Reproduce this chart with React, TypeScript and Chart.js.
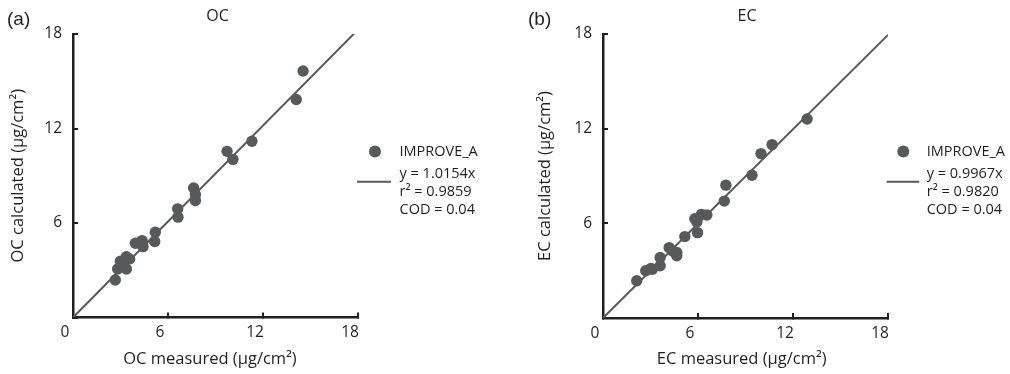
import React, { useEffect, useRef } from "react";
import { Chart, registerables } from "chart.js";

Chart.register(...registerables);

// ---- data ----
const ocMeasured = [2.67, 2.82, 2.99, 3.37, 3.37, 3.58, 3.94, 4.36, 4.42, 5.16, 5.2, 6.61, 6.63, 7.62, 7.73, 7.73, 9.73, 10.1, 11.3, 14.1, 14.53];
const ocCalculated = [2.38, 3.08, 3.57, 3.08, 3.86, 3.72, 4.71, 4.88, 4.5, 4.82, 5.41, 6.9, 6.37, 8.22, 7.81, 7.43, 10.55, 10.04, 11.19, 13.84, 15.65];
const ecMeasured = [2.13, 2.7, 3.02, 3.12, 3.61, 3.61, 4.18, 4.39, 4.66, 4.66, 5.17, 5.8, 5.93, 5.97, 6.22, 6.56, 7.66, 7.76, 9.41, 9.98, 10.68, 12.89];
const ecCalculated = [2.36, 2.99, 3.14, 3.09, 3.83, 3.31, 4.46, 4.25, 4.15, 3.94, 5.16, 6.29, 6.08, 5.41, 6.57, 6.53, 7.41, 8.42, 9.05, 10.42, 10.99, 12.61];
const tickValues = [0, 6, 12, 18];
const ocSlope = 1.0154;
const ecSlope = 0.9967;
const ocLegend = ["IMPROVE_A", "y = 1.0154x", "r\u00B2 = 0.9859", "COD = 0.04"];
const ecLegend = ["IMPROVE_A", "y = 0.9967x", "r\u00B2 = 0.9820", "COD = 0.04"];

const FONT = "'Open Sans', sans-serif";
const TEXT = "#231f20";
const AXIS = "#231f20";
const MARK = "#58595b";

type PanelCfg = {
  left: number;
  width: number;
  area: { left: number; right: number; top: number; bottom: number };
  panel: string;
  panelX: number;
  title: string;
  titleX: number;
  xTitle: string;
  xTitleX: number;
  yTitle: string;
  yTitleX: number;
  measured: number[];
  calculated: number[];
  slope: number;
  legend: string[];
  legCircleX: number;
  legLineX1: number;
  legLineX2: number;
  legTextX: number;
};

const panels: PanelCfg[] = [
  {
    left: 0,
    width: 505,
    area: { left: 73, right: 358, top: 34, bottom: 317.5 },
    panel: "(a)",
    panelX: 7,
    title: "OC",
    titleX: 217.5,
    xTitle: "OC measured (\u03BCg/cm\u00B2)",
    xTitleX: 210,
    yTitle: "OC calculated (\u03BCg/cm\u00B2)",
    yTitleX: 18.5,
    measured: ocMeasured,
    calculated: ocCalculated,
    slope: ocSlope,
    legend: ocLegend,
    legCircleX: 375,
    legLineX1: 357,
    legLineX2: 391,
    legTextX: 399.5,
  },
  {
    left: 505,
    width: 505,
    area: { left: 98, right: 383, top: 34, bottom: 318 },
    panel: "(b)",
    panelX: 23,
    title: "EC",
    titleX: 242,
    xTitle: "EC measured (\u03BCg/cm\u00B2)",
    xTitleX: 236.7,
    yTitle: "EC calculated (\u03BCg/cm\u00B2)",
    yTitleX: 40,
    measured: ecMeasured,
    calculated: ecCalculated,
    slope: ecSlope,
    legend: ecLegend,
    legCircleX: 398.3,
    legLineX1: 381.7,
    legLineX2: 414.3,
    legTextX: 421.7,
  },
];

function decorPlugin(cfg: PanelCfg) {
  return {
    id: "decor" + cfg.panel,
    afterDraw(chart: any) {
      const ctx = chart.ctx as CanvasRenderingContext2D;
      const a = chart.chartArea;
      ctx.save();
      ctx.fillStyle = TEXT;
      ctx.textBaseline = "middle";
      // panel letter
      ctx.font = "19px 'Liberation Sans', Arial, sans-serif";
      ctx.textAlign = "left";
      ctx.fillText(cfg.panel, cfg.panelX, 20);
      // title
      ctx.font = `16px ${FONT}`;
      ctx.textAlign = "center";
      ctx.fillText(cfg.title, cfg.titleX, 16);
      // axis titles
      ctx.font = `16.5px ${FONT}`;
      ctx.fillText(cfg.xTitle, cfg.xTitleX, 359);
      ctx.save();
      ctx.translate(cfg.yTitleX, (a.top + a.bottom) / 2);
      ctx.rotate(-Math.PI / 2);
      ctx.fillText(cfg.yTitle, 0, 0);
      ctx.restore();
      // legend
      ctx.fillStyle = MARK;
      ctx.beginPath();
      ctx.arc(cfg.legCircleX, 151.5, 6, 0, Math.PI * 2);
      ctx.fill();
      ctx.strokeStyle = MARK;
      ctx.lineWidth = 2;
      ctx.beginPath();
      ctx.moveTo(cfg.legLineX1, 181.7);
      ctx.lineTo(cfg.legLineX2, 181.7);
      ctx.stroke();
      ctx.fillStyle = TEXT;
      ctx.font = `14.5px ${FONT}`;
      ctx.textAlign = "left";
      const ys = [151.5, 173.5, 191.7, 210];
      cfg.legend.forEach((t, i) => ctx.fillText(t, cfg.legTextX, ys[i]));
      ctx.restore();
    },
  };
}

function Panel({ cfg }: { cfg: PanelCfg }) {
  const ref = useRef<HTMLCanvasElement | null>(null);
  useEffect(() => {
    if (!ref.current) return;
    const points = cfg.measured.map((x, i) => ({ x, y: cfg.calculated[i] }));
    const fit = [
      { x: tickValues[0], y: tickValues[0] * cfg.slope },
      { x: tickValues[tickValues.length - 1], y: tickValues[tickValues.length - 1] * cfg.slope },
    ];
    const axisCommon = {
      min: tickValues[0],
      max: tickValues[tickValues.length - 1],
      grid: { drawOnChartArea: false, drawTicks: true, tickLength: -5, color: AXIS, lineWidth: 2 },
      border: { display: true, color: AXIS, width: 2.5 },
    };
    const xHeight = 374 - cfg.area.bottom;
    const chart = new Chart(ref.current, {
      type: "scatter",
      data: {
        datasets: [
          {
            label: "IMPROVE_A",
            data: points,
            pointRadius: 5.7,
            pointBackgroundColor: MARK,
            pointBorderWidth: 0,
            order: 1,
          } as any,
          {
            type: "line",
            label: "fit",
            data: fit,
            borderColor: MARK,
            borderWidth: 2,
            pointRadius: 0,
            showLine: true,
            fill: false,
            order: 2,
          } as any,
        ],
      },
      options: {
        animation: false,
        responsive: false,
        events: [],
        layout: {
          padding: {
            left: 0,
            right: cfg.width - cfg.area.right,
            top: cfg.area.top,
            bottom: 0,
          },
        },
        plugins: { legend: { display: false }, tooltip: { enabled: false }, title: { display: false } },
        scales: {
          x: {
            type: "linear",
            position: "bottom",
            ...axisCommon,
            afterFit: (s: any) => {
              s.height = xHeight;
            },
            afterBuildTicks: (s: any) => {
              s.ticks = tickValues.map((v) => ({ value: v }));
            },
            ticks: {
              color: TEXT,
              font: { family: FONT, size: 15.5 },
              padding: 11,
              labelOffset: -8,
              maxRotation: 0,
              autoSkip: false,
            },
          },
          y: {
            type: "linear",
            position: "left",
            ...axisCommon,
            afterFit: (s: any) => {
              s.width = cfg.area.left;
            },
            afterBuildTicks: (s: any) => {
              s.ticks = tickValues.map((v) => ({ value: v }));
            },
            ticks: {
              color: TEXT,
              font: { family: FONT, size: 15.5 },
              padding: 16,
              autoSkip: false,
              callback: (v: any) => (v === 0 ? "" : String(v)),
            },
          },
        } as any,
      },
      plugins: [decorPlugin(cfg)],
    });
    return () => chart.destroy();
  }, [cfg]);
  return (
    <canvas
      ref={ref}
      width={cfg.width}
      height={374}
      style={{ position: "absolute", left: cfg.left, top: 0, width: cfg.width, height: 374 }}
    />
  );
}

export default function App() {
  return (
    <div style={{ position: "absolute", left: 0, top: 0, width: 1010, height: 374, background: "#fff" }}>
      {panels.map((p) => (
        <Panel key={p.panel} cfg={p} />
      ))}
    </div>
  );
}
